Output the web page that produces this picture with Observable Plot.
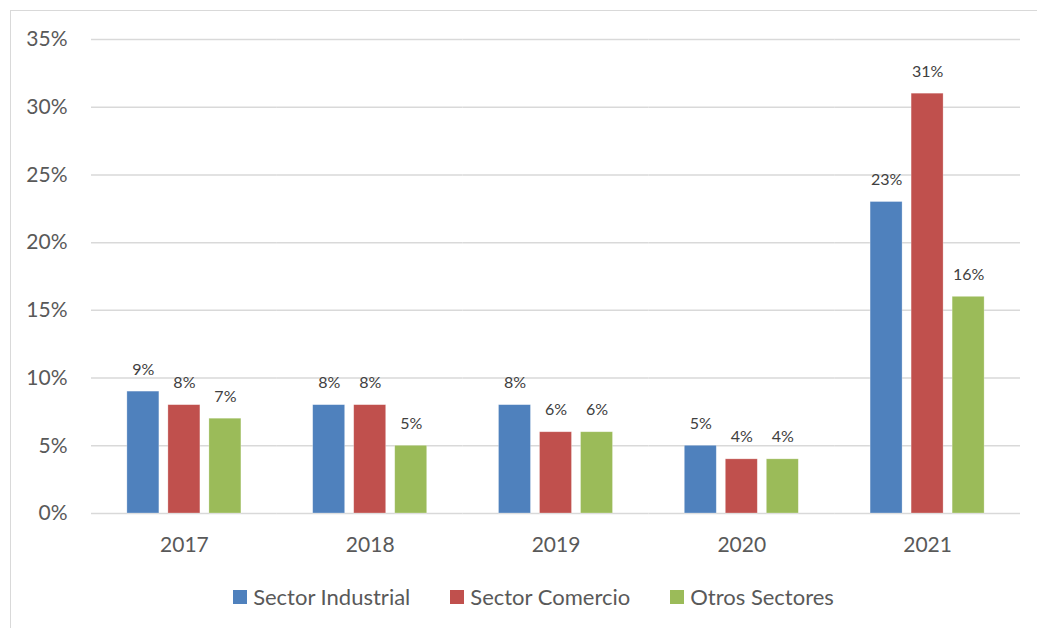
<!DOCTYPE html>
<html>
<head>
<meta charset="utf-8">
<script src="https://cdn.jsdelivr.net/npm/d3@7"></script>
<script src="https://cdn.jsdelivr.net/npm/@observablehq/plot@0.6"></script>
<style>
  html, body { margin: 0; padding: 0; background: #fff; }
  body { width: 1037px; height: 628px; position: relative; overflow: hidden; font-family: Lato, "Open Sans", sans-serif; }
  #frame { position: absolute; left: 10px; top: 10px; width: 1040px; height: 640px; border: 1.5px solid #d9d9d9; box-sizing: border-box; }
  #chart { position: absolute; left: 0; top: 0; }
  #legend { position: absolute; left: 0; width: 1037px; top: 583px; display: flex; justify-content: center; gap: 40px; font-size: 22px; color: #595959; box-sizing: border-box; padding-left: 30px; }
  #legend .item { display: flex; align-items: center; gap: 6px; }
  #legend .sw { width: 14px; height: 14px; display: inline-block; }
</style>
</head>
<body>
<div id="frame"></div>
<div id="chart"></div>
<div id="legend"></div>
<script>
const years = ["2017", "2018", "2019", "2020", "2021"];
const series = ["Sector Industrial", "Sector Comercio", "Otros Sectores"];
const colors = ["#4f81bd", "#c0504d", "#9bbb59"];
const industrial = [9, 8, 8, 5, 23];
const comercio = [8, 8, 6, 4, 31];
const otros = [7, 5, 6, 4, 16];
const yTicks = [0, 5, 10, 15, 20, 25, 30, 35];

const values = [industrial, comercio, otros];
const data = [];
years.forEach((y, i) => {
  series.forEach((s, j) => data.push({year: y, series: s, value: values[j][i]}));
});

const chart = Plot.plot({
  width: 1037,
  height: 560,
  marginLeft: 91,
  marginRight: 17,
  marginTop: 39,
  marginBottom: 47,
  style: {fontFamily: "Lato, 'Open Sans', sans-serif", color: "#595959", background: "transparent"},
  fx: {domain: years, padding: 0, round: false, label: null, axis: null},
  x: {domain: series, paddingInner: 0.22, paddingOuter: 0.875, round: false, axis: null},
  y: {domain: [0, 35], ticks: yTicks, label: null, axis: null},
  color: {domain: series, range: colors},
  marks: [
    Plot.gridY(yTicks, {stroke: "#d9d9d9", strokeOpacity: 1, strokeWidth: 1.5}),
    Plot.axisY(yTicks, {tickSize: 0, tickPadding: 24, tickFormat: d => d + "%", fontSize: 21, fill: "#595959", label: null}),
    Plot.axisFx({tickSize: 0, tickPadding: 24, fontSize: 21, fill: "#595959", label: null, anchor: "bottom"}),
    Plot.barY(data, {fx: "year", x: "series", y: "value", fill: "series", stroke: "#fff", strokeOpacity: 0.4, strokeWidth: 0.7}),
    Plot.text(data, {fx: "year", x: "series", y: "value", text: d => d.value + "%", dy: -22, fontSize: 16, fill: "#404040"})
  ]
});
document.getElementById("chart").appendChild(chart);

const legend = document.getElementById("legend");
series.forEach((s, i) => {
  const item = document.createElement("div");
  item.className = "item";
  const sw = document.createElement("span");
  sw.className = "sw";
  sw.style.background = colors[i];
  const t = document.createElement("span");
  t.textContent = s;
  item.appendChild(sw);
  item.appendChild(t);
  legend.appendChild(item);
});
</script>
</body>
</html>
